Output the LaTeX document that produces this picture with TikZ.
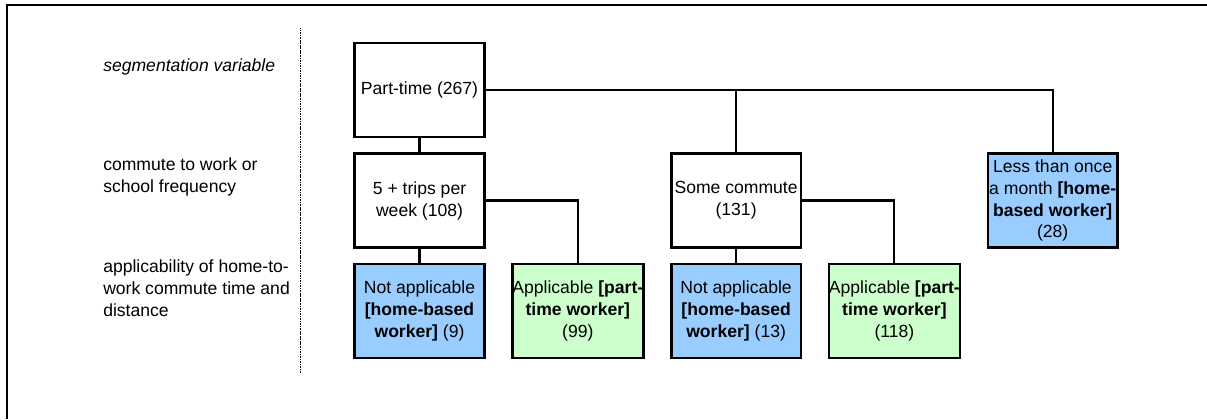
\documentclass[tikz,border=0pt]{standalone}
\usepackage{fontspec}
\setmainfont{Liberation Sans}
\usetikzlibrary{positioning}
\definecolor{homeblue}{HTML}{99CCFF}
\definecolor{workgreen}{HTML}{CCFFCC}

\begin{document}
\begin{tikzpicture}[node distance=2.7625cm and 3.9575cm,on grid,
   font=\fontsize{12.5}{15.6}\selectfont,
   box/.style={draw,line width=1.8pt,minimum width=3.24cm,minimum height=2.34cm,
     align=center,inner xsep=0pt,fill=white},
   home/.style={box,fill=homeblue},
   work/.style={box,fill=workgreen},
   var/.style={anchor=west,align=left,inner sep=0pt},
   link/.style={line width=1.5pt}]
   \useasboundingbox (0,0) rectangle (30.175,10.475);
   \draw[line width=1.7pt] (0.175,0) -- (0.175,10.35) -- (30.175,10.35);
   \draw[line width=0.7pt,dash pattern=on 1.2pt off 0.6pt] (7.5,1.15) -- (7.5,9.775);
   % row labels
   \node[var] (segvar) at (2.575,8.81) {\itshape segmentation variable};
   \node[var] (freq)   at (2.575,6.04) {commute to work or\\school frequency};
   \node[var] (applic) at (2.575,3.26) {applicability of home-to-\\work commute time and\\distance};
   % tree
   \node[box] (part) at (10.4875,8.225) {Part-time (267)};
   \node[box] (trips) [below=of part] {5 + trips per\\week (108)};
   \node[home] (home_1) [below=of trips] {Not applicable\\\textbf{[home-based}\\\textbf{worker]} (9)};
   \node[work] (app_1) [right=of home_1] {Applicable \textbf{[part-}\\\textbf{time worker]}\\(99)};
   \node[home] (home_2) [right=of app_1] {Not applicable\\\textbf{[home-based}\\\textbf{worker]} (13)};
   \node[box] (some) [above=of home_2] {Some commute\\(131)};
   \node[work] (app_2) [right=of home_2] {Applicable \textbf{[part-}\\\textbf{time worker]}\\(118)};
   \node[home] (less) [right=7.915cm of some] {Less than once\\a month \textbf{[home-}\\\textbf{based worker]}\\(28)};
    \path[link]
    (part) edge (trips)
    (trips) edge (home_1)
    (some) edge (home_2);
    \draw[link] (part.east) -| (less.north);
    \draw[link] (some.north) -- (some.north |- part.east);
    \draw[link] (trips.east) -| (app_1.north);
    \draw[link] (some.east) -| (app_2.north);
\end{tikzpicture}
\end{document}
